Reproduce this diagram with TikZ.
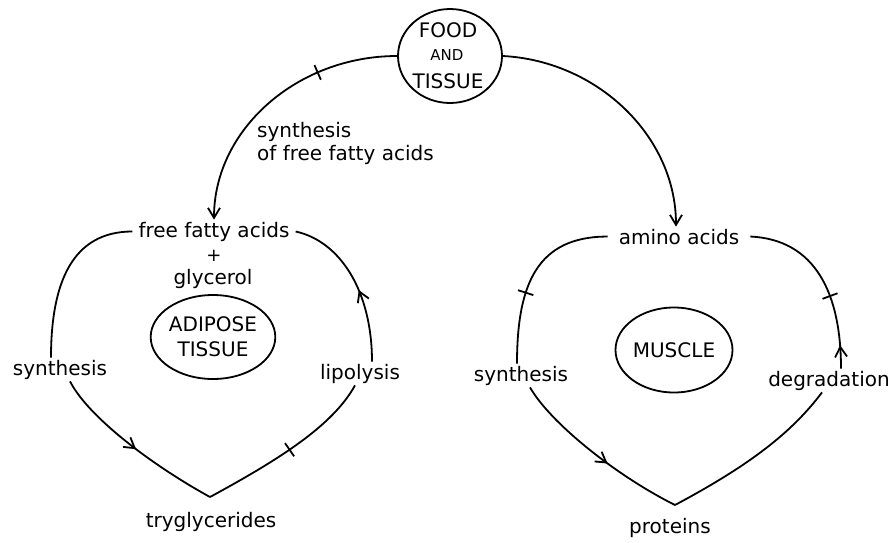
\documentclass[tikz,border=0pt]{standalone}
\usepackage{fontspec}
\setmainfont{DejaVu Sans}
\usetikzlibrary{arrows.meta,shapes.geometric,decorations.markings}
\tikzset{
  lbl/.style={font=\fontsize{20}{24}\selectfont, inner xsep=5pt, inner ysep=2pt, anchor=base},
  oval/.style={draw, ellipse, line width=1.8pt, inner sep=0pt, font=\fontsize{20}{25}\selectfont, align=center},
  flow/.style={draw, line width=1.8pt},
  tipend/.style={-{Straight Barb[length=10pt,width=12pt]}},
  midarrow/.style={postaction={decorate, decoration={markings, mark=at position #1 with {\arrow{Straight Barb[length=10pt,width=12pt]}}}}},
  midtick/.style={postaction={decorate, decoration={markings, mark=at position #1 with {\draw[line width=1.8pt,-] (0,-8pt) -- (0,8pt);}}}}
}
\begin{document}
\begin{tikzpicture}[x=1pt,y=-1pt]
\useasboundingbox (0,0) rectangle (895,542);
\fill[white] (0,0) rectangle (895,542);

% top source
\node[oval, minimum width=104pt, minimum height=94pt] (food) at (450,56) {};
\node[lbl] (foodt1) at (448,37) {FOOD};
\node[lbl, font=\fontsize{15}{16}\selectfont] (foodt2) at (447,60) {AND};
\node[lbl] (foodt3) at (448,88) {TISSUE};

% adipose side
\node[lbl, inner xsep=6pt] (ffa) at (214,237) {free fatty acids};
\node[lbl, font=\fontsize{18}{18}\selectfont] (plus) at (214,261) {+};
\node[lbl] (gly) at (213,284) {glycerol};
\node[oval, minimum width=115pt, minimum height=84pt] (adi) at (213,337) {ADIPOSE\\TISSUE};
\node[lbl] (synL) at (60,375) {synthesis};
\node[lbl] (lip) at (360,379) {lipolysis};
\node[lbl] (tgl) at (211,527) {tryglycerides};
\node[font=\fontsize{20}{23}\selectfont, align=left, anchor=west, inner xsep=5pt] (sff) at (252,143) {synthesis\\of free fatty acids};
\coordinate (tg) at (210,497);

% muscle side
\node[lbl, inner xsep=11pt] (amino) at (679,244) {amino acids};
\node[oval, minimum width=117pt, minimum height=85pt] (mus) at (674,350) {MUSCLE};
\node[lbl] (synR) at (521,381) {synthesis};
\node[lbl] (deg) at (829,386) {degradation};
\node[lbl] (prot) at (670,533) {proteins};
\coordinate (pr) at (675,505);

% connectors from source
\draw[flow, tipend, midtick=0.3] (food.west) .. controls +(-100,0) and +(0,-90) .. (ffa.north);
\draw[flow, tipend] (food.east) .. controls +(95,5) and +(0,-90) .. ([xshift=-3pt]amino.north);

% adipose cycle
\draw[flow] (ffa.west) .. controls +(-60,0) and +(0,-75) .. ([xshift=-9pt]synL.north);
\draw[flow, midarrow=0.52] ([xshift=10pt]synL.south) .. controls +(18,35) and +(-60,-33) .. (tg);
\draw[flow, midtick=0.5] (tg) .. controls +(70,-38) and +(-22,40) .. ([xshift=-5pt]lip.south);
\draw[flow, midarrow=0.45] ([xshift=12pt]lip.north) .. controls +(0,-70) and +(45,10) .. (ffa.east);

% muscle cycle
\draw[flow, midtick=0.6] (amino.west) .. controls +(-70,0) and +(0,-80) .. ([xshift=-4pt]synR.north);
\draw[flow, midarrow=0.58] ([xshift=9pt]synR.south) .. controls +(20,35) and +(-60,-30) .. (pr);
\draw[flow] (pr) .. controls +(75,-40) and +(-30,40) .. ([xshift=-7pt]deg.south);
\draw[flow, midarrow=0.13, midtick=0.41] ([xshift=12pt]deg.north) .. controls +(0,-75) and +(65,3) .. (amino.east);
\end{tikzpicture}
\end{document}
